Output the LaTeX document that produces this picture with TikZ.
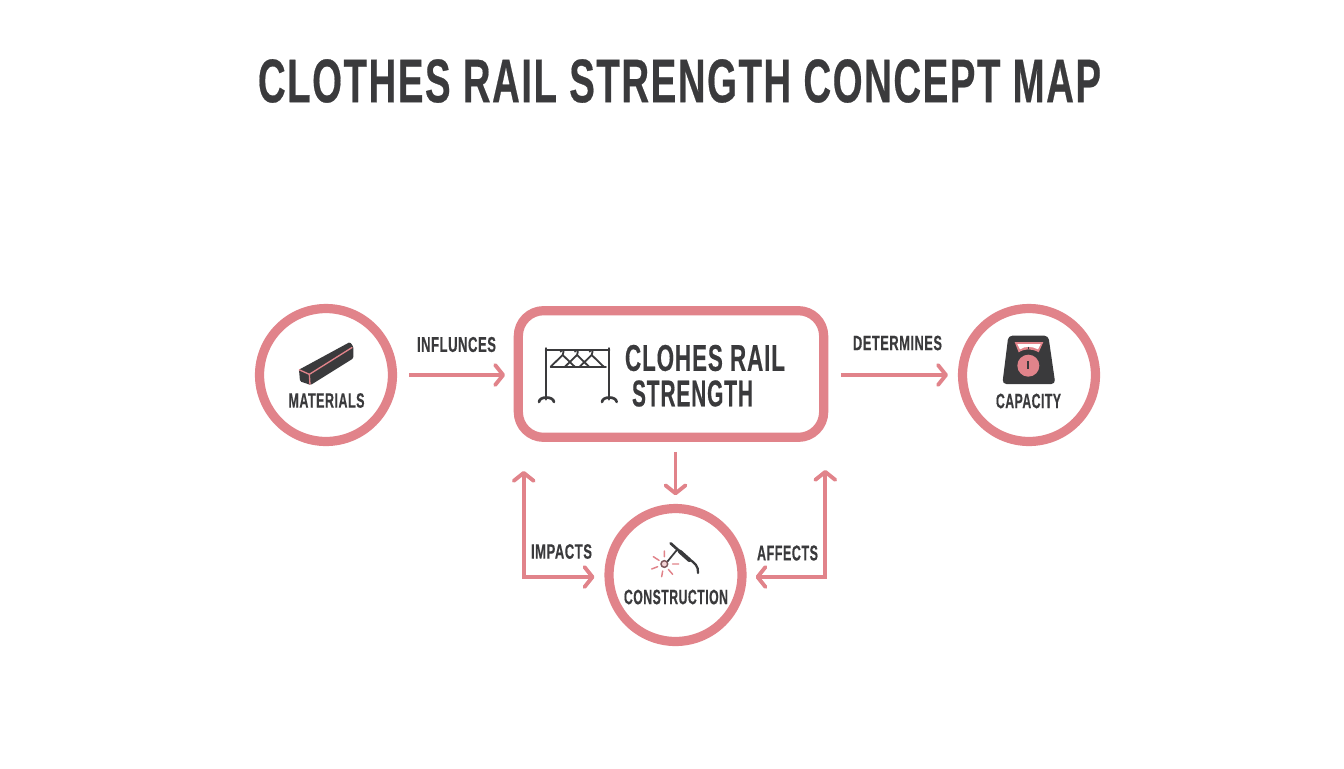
\documentclass[tikz,border=0pt]{standalone}
\usepackage{graphicx}
\usepackage{fontspec}
\setmainfont[BoldFeatures={FakeBold=0.5,LetterSpace=4}]{Liberation Sans}
\usetikzlibrary{arrows.meta,calc}
\definecolor{ring}{HTML}{E1838A}
\definecolor{ink}{HTML}{3A3A3C}
\newcommand{\fitt}[3]{\resizebox{\dimexpr #1pt*3/4\relax}{\dimexpr #2pt*3/4\relax}{\bfseries #3}}
\tikzset{
  ringnode/.style={circle,draw=ring,line width=6.9pt,minimum size=99.7pt,inner sep=0pt,fill=white},
  railbox/.style={rectangle,rounded corners=19pt,draw=ring,line width=6.9pt,minimum width=229pt,minimum height=95pt,inner sep=0pt,fill=white},
  lbl/.style={inner sep=0pt,text=ink},
  link/.style={draw=ring,line width=2.7pt,-{Straight Barb[length=6pt,width=15pt,line width=2.9pt,round]}},
  linkboth/.style={draw=ring,line width=2.7pt,{Straight Barb[length=6pt,width=15pt,line width=2.9pt,round]}-{Straight Barb[length=6pt,width=15pt,line width=2.9pt,round]}},
  icon/.style={draw=ink,line width=2pt,line cap=round,line join=round},
  hanger/.style={draw=ink,line width=1.35pt,line cap=round,line join=round},
  spark/.style={draw=ring,line width=1.1pt,line cap=round},
  accent/.style={draw=ring,line width=1pt,line join=round}
}
\begin{document}
\begin{tikzpicture}[x=0.75pt,y=-0.75pt]
\useasboundingbox[fill=white] (0,0) rectangle (1344,768);
\node[lbl] (title) at (679.5,81) {\fitt{843}{43}{CLOTHES RAIL STRENGTH CONCEPT MAP}};
% shapes
\node[ringnode] (mat) at (326,375) {};
\node[railbox] (rail) at (671,374) {};
\node[ringnode] (cap) at (1029,375) {};
\node[ringnode] (con) at (675.5,575) {};
% text
\node[lbl] (matT) at (326.5,400.5) {\fitt{76}{14.5}{MATERIALS}};
\node[lbl] (capT) at (1028.5,401) {\fitt{65}{14.5}{CAPACITY}};
\node[lbl] (conT) at (676,597) {\fitt{104}{14.5}{CONSTRUCTION}};
\node[lbl] (railA) at (705,358) {\fitt{160}{26}{CLOHES RAIL}};
\node[lbl] (railB) at (692.5,393.5) {\fitt{121}{26}{STRENGTH}};
\node[lbl] (infT) at (456.5,344.5) {\fitt{79}{15}{INFLUNCES}};
\node[lbl] (detT) at (897.5,343) {\fitt{89}{14.5}{DETERMINES}};
\node[lbl] (impT) at (561.5,551.5) {\fitt{61}{14.5}{IMPACTS}};
\node[lbl] (affT) at (787.5,553) {\fitt{61}{15}{AFFECTS}};
% connectors
\draw[link,shorten <=9pt,shorten >=6.5pt] (mat.east) -- (rail.west |- mat.east);
\draw[link,shorten <=9.5pt,shorten >=7.5pt] (rail.east |- cap.west) -- (cap.west);
\draw[link,shorten <=7.5pt,shorten >=6.5pt] (rail.south -| con.north) -- (con.north);
\coordinate (impUp) at ($(rail.south west)+(10,29)$);
\coordinate (impIn) at ($(con.west)+(-10,2)$);
\coordinate (affUp) at ($(rail.south east)+(-3,28)$);
\coordinate (affIn) at ($(con.east)+(9,2)$);
\draw[linkboth] (impUp) |- (impIn);
\draw[linkboth] (affUp) |- (affIn);
% beam icon
\begin{scope}[shift={(250,295)},xscale=1/3,yscale=1/3]
\fill[ink,rounded corners=1pt] (147,224) -- (300,141) -- (310,155) -- (310,190) -- (182,270) -- (150,259) -- cycle;
\draw[accent] (147,224) -- (178,238) -- (307,157);
\draw[accent] (178,238) -- (180,269);
\end{scope}
% rack icon
\begin{scope}[shift={(510,300)},xscale=1/3,yscale=1/3]
\draw[icon] (108,145) -- (108,298) (297,145) -- (297,298) (108,150) -- (297,150);
\draw[icon] (87,306) .. controls (88,288) and (130,288) .. (132,306);
\draw[icon] (276,306) .. controls (277,288) and (319,288) .. (320,306);
\draw[hanger] (122,201) -- (288,201);
\foreach \h in {158,201,245}{
  \draw[hanger] (\h-6,155) .. controls (\h-5,146) and (\h+8,148) .. (\h,165) -- (\h-36,200) (\h,165) -- (\h+36,200);
}
\end{scope}
% scale icon
\begin{scope}[shift={(840,295)},xscale=1/3,yscale=1/3]
\fill[ink,rounded corners=3pt] (505,122) -- (625,122) -- (646,267) -- (487,267) -- cycle;
\fill[ring] (524,141) -- (610,141) -- (596,172) .. controls (575,160) and (555,160) .. (536,172) -- cycle;
\fill[white] (532,147) -- (602,147) -- (594,163) .. controls (575,153) and (555,153) .. (540,163) -- cycle;
\draw[ink,line width=0.8pt] (566,155) -- (566,163);
\fill[ring] (565,212) circle (33);
\draw[ink,line width=1.5pt] (565,198) -- (565,223);
\end{scope}
% torch icon
\begin{scope}[shift={(510,445)},xscale=1/3,yscale=1/3]
\draw[icon,line width=2pt,line cap=round] (482,295) -- (510,320);
\draw[icon,line width=3pt,line cap=round] (510,320) -- (538,345);
\draw[icon,line width=1.3pt] (503,312) -- (472,350);
\draw[icon,line width=1.7pt] (535,342) .. controls (555,352) and (566,365) .. (564,384);
\draw[draw=ink!60!ring,line width=1.1pt,fill=ring!35] (463,357) circle (10);
\draw[spark] (463,318) -- (463,335) (430,335) -- (447,346) (425,372) -- (443,365) (455,395) -- (458,378) (488,388) -- (475,373) (488,357) -- (506,357);
\end{scope}
\end{tikzpicture}
\end{document}
